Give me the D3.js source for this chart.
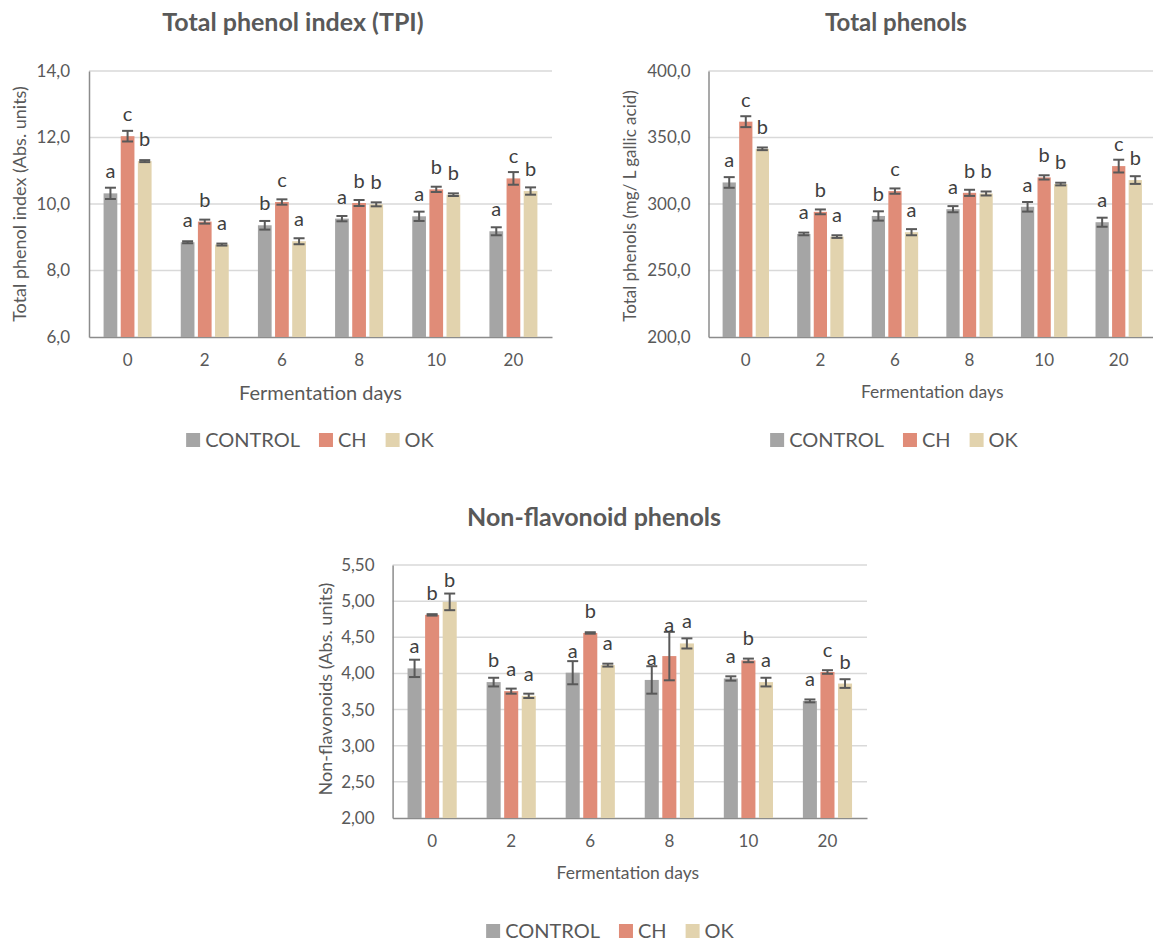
<!DOCTYPE html>
<html><head><meta charset="utf-8">
<script src="https://cdn.jsdelivr.net/npm/d3@7"></script>
<style>
body{margin:0;background:#fff;}
svg{display:block;font-family:Lato,"Open Sans",sans-serif;}
</style></head><body>
<svg id="fig" width="1153" height="942"></svg>
<script>
const days = ["0","2","6","8","10","20"];
const treatments = ["CONTROL","CH","OK"];
const treatmentColors = ["#a5a5a5","#e08c78","#e2d3ae"];

// Total phenol index (Abs. units)
const tpiControl = [10.32, 8.85, 9.36, 9.56, 9.63, 9.18];
const tpiCH      = [12.04, 9.47, 10.06, 10.03, 10.44, 10.77];
const tpiOK      = [11.29, 8.78, 8.88, 9.99, 10.28, 10.39];
const tpiControlSd = [0.17, 0.03, 0.13, 0.08, 0.14, 0.12];
const tpiCHSd      = [0.16, 0.06, 0.08, 0.09, 0.08, 0.19];
const tpiOKSd      = [0.03, 0.03, 0.09, 0.06, 0.04, 0.11];
const tpiControlLetters = ["a","a","b","a","a","a"];
const tpiCHLetters      = ["c","b","c","b","b","c"];
const tpiOKLetters      = ["b","a","a","b","b","b"];
const tpiTicks = [6, 8, 10, 12, 14];

// Total phenols (mg/L gallic acid)
const tpControl = [316.2, 277.5, 291.0, 296.1, 297.9, 286.3];
const tpCH      = [361.9, 294.1, 309.7, 308.4, 320.0, 328.5];
const tpOK      = [341.5, 275.5, 278.8, 307.9, 315.0, 318.0];
const tpControlSd = [4.0, 1.0, 3.5, 2.3, 3.6, 3.4];
const tpCHSd      = [4.1, 1.8, 2.0, 2.3, 1.6, 4.8];
const tpOKSd      = [1.0, 1.0, 2.3, 1.5, 1.0, 2.9];
const tpControlLetters = ["a","a","b","a","a","a"];
const tpCHLetters      = ["c","b","c","b","b","c"];
const tpOKLetters      = ["b","a","a","b","b","b"];
const tpTicks = [200, 250, 300, 350, 400];

// Non-flavonoid phenols (Abs. units)
const nfControl = [4.07, 3.88, 4.01, 3.91, 3.93, 3.62];
const nfCH      = [4.81, 3.755, 4.56, 4.24, 4.18, 4.02];
const nfOK      = [4.99, 3.69, 4.115, 4.415, 3.88, 3.86];
const nfControlSd = [0.12, 0.06, 0.16, 0.19, 0.03, 0.02];
const nfCHSd      = [0.01, 0.035, 0.01, 0.335, 0.025, 0.025];
const nfOKSd      = [0.115, 0.03, 0.02, 0.07, 0.06, 0.06];
const nfControlLetters = ["a","b","a","a","a","a"];
const nfCHLetters      = ["b","a","b","a","b","c"];
const nfOKLetters      = ["b","a","a","a","a","b"];
const nfTicks = [2.0, 2.5, 3.0, 3.5, 4.0, 4.5, 5.0, 5.5];

const svg = d3.select("#fig");
const textColor = "#595959";

function drawChart(cfg) {
  const g = svg.append("g");
  const y = d3.scaleLinear().domain(d3.extent(cfg.ticks)).range([cfg.bottom, cfg.top]);
  const x0 = d3.scaleBand().domain(days).range([cfg.left, cfg.right])
    .paddingInner(0.378).paddingOuter(0.189);
  const x1 = d3.scaleBand().domain(treatments).range([0, x0.bandwidth()]).paddingInner(0.2);
  const fmt = v => d3.format(cfg.fmt)(v).replace(".", ",");

  // gridlines
  g.append("g").selectAll("line").data(cfg.ticks.slice(1)).join("line")
    .attr("x1", cfg.left).attr("x2", cfg.right)
    .attr("y1", d => y(d)).attr("y2", d => y(d))
    .attr("stroke", "#d9d9d9").attr("stroke-width", 1.5);

  // y axis
  const ya = g.append("g").attr("transform", `translate(${cfg.left},0)`)
    .call(d3.axisLeft(y).tickValues(cfg.ticks).tickFormat(fmt).tickSize(0).tickPadding(cfg.tickPad));
  ya.select(".domain").attr("stroke", "#8c8c8c").attr("stroke-width", 1.5);
  ya.selectAll("text").attr("fill", textColor).style("font-size", cfg.tickSize + "px")
    .style("font-family", "Lato, 'Open Sans', sans-serif");

  // x axis
  const xa = g.append("g").attr("transform", `translate(0,${cfg.bottom})`)
    .call(d3.axisBottom(x0).tickSize(0).tickPadding(cfg.xTickPad));
  xa.select(".domain").attr("stroke", "#8c8c8c").attr("stroke-width", 1.5);
  xa.selectAll("text").attr("fill", textColor).style("font-size", cfg.tickSize + "px")
    .style("font-family", "Lato, 'Open Sans', sans-serif");

  // bars, error bars and letters
  const cap = 5.5;
  cfg.series.forEach((s, si) => {
    const tr = treatments[si];
    const rows = days.map((d, i) => ({ day: d, v: s.mean[i], sd: s.sd[i], letter: s.letters[i] }));
    const grp = g.append("g");
    grp.selectAll("rect").data(rows).join("rect")
      .attr("x", d => x0(d.day) + x1(tr))
      .attr("y", d => y(d.v))
      .attr("width", x1.bandwidth())
      .attr("height", d => cfg.bottom - y(d.v))
      .attr("fill", treatmentColors[si]);
    const eb = grp.append("g").attr("stroke", "#595959").attr("stroke-width", 2).attr("fill", "none");
    rows.forEach(d => {
      const cx = x0(d.day) + x1(tr) + x1.bandwidth() / 2;
      const yt = y(d.v + d.sd), yb = y(d.v - d.sd);
      eb.append("line").attr("x1", cx).attr("x2", cx).attr("y1", yt).attr("y2", yb);
      eb.append("line").attr("x1", cx - cap).attr("x2", cx + cap).attr("y1", yt).attr("y2", yt);
      eb.append("line").attr("x1", cx - cap).attr("x2", cx + cap).attr("y1", yb).attr("y2", yb);
    });
    grp.selectAll("text.letter").data(rows).join("text")
      .attr("class", "letter")
      .attr("x", d => x0(d.day) + x1(tr) + x1.bandwidth() / 2)
      .attr("y", d => Math.min(y(d.v) - 22, y(d.v + d.sd) - 7))
      .attr("dy", "0.35em")
      .attr("text-anchor", "middle")
      .attr("fill", "#404040")
      .style("font-size", "20px")
      .text(d => d.letter);
  });

  // titles
  g.append("text").attr("x", cfg.titleX).attr("y", cfg.titleY).attr("text-anchor", "middle")
    .attr("fill", textColor).style("font-size", cfg.titleSize + "px").style("font-weight", "bold").text(cfg.title);
  g.append("text").attr("transform", `translate(${cfg.yTitleX},${cfg.yTitleCy}) rotate(-90)`)
    .attr("text-anchor", "middle").attr("dy", "0.35em")
    .attr("fill", textColor).style("font-size", cfg.yTitleSize + "px").text(cfg.yTitle);
  g.append("text").attr("x", (cfg.left + cfg.right) / 2 + cfg.xTitleShift).attr("y", cfg.xTitleY).attr("dy", "0.35em")
    .attr("text-anchor", "middle").attr("fill", textColor).style("font-size", cfg.xTitleSize + "px")
    .text("Fermentation days");

  // legend
  const lg = g.append("g");
  let lx = 0;
  treatments.forEach((t, i) => {
    const item = lg.append("g").attr("transform", `translate(${lx},0)`);
    item.append("rect").attr("x", 0).attr("y", -7).attr("width", 14).attr("height", 14).attr("fill", treatmentColors[i]);
    const tx = item.append("text").attr("x", 19).attr("dy", "0.35em").attr("fill", textColor)
      .style("font-size", "20px").text(t);
    lx += 19 + tx.node().getComputedTextLength() + 19;
  });
  lx -= 19;
  lg.attr("transform", `translate(${cfg.legendX - lx / 2},${cfg.legendY})`);
}

drawChart({
  left: 89, right: 552, top: 71, bottom: 337, ticks: tpiTicks, fmt: ".1f",
  tickPad: 19, xTickPad: 17, tickSize: 17,
  title: "Total phenol index (TPI)", titleX: 293, titleY: 31, titleSize: 25,
  yTitle: "Total phenol index (Abs. units)", yTitleX: 20, yTitleCy: 204, yTitleSize: 18,
  xTitleY: 393, xTitleSize: 20, xTitleShift: 0, legendX: 310, legendY: 440,
  series: [
    { mean: tpiControl, sd: tpiControlSd, letters: tpiControlLetters },
    { mean: tpiCH, sd: tpiCHSd, letters: tpiCHLetters },
    { mean: tpiOK, sd: tpiOKSd, letters: tpiOKLetters }
  ]
});

drawChart({
  left: 708.5, right: 1156, top: 71, bottom: 337, ticks: tpTicks, fmt: ".1f",
  tickPad: 18, xTickPad: 17, tickSize: 17,
  title: "Total phenols", titleX: 896, titleY: 31, titleSize: 24,
  yTitle: "Total phenols (mg/ L gallic acid)", yTitleX: 630, yTitleCy: 206, yTitleSize: 17,
  xTitleY: 392, xTitleSize: 17.5, xTitleShift: 0, legendX: 894, legendY: 440,
  series: [
    { mean: tpControl, sd: tpControlSd, letters: tpControlLetters },
    { mean: tpCH, sd: tpCHSd, letters: tpCHLetters },
    { mean: tpOK, sd: tpOKSd, letters: tpOKLetters }
  ]
});

drawChart({
  left: 392.6, right: 867, top: 565, bottom: 818, ticks: nfTicks, fmt: ".2f",
  tickPad: 18, xTickPad: 17, tickSize: 17,
  title: "Non-flavonoid phenols", titleX: 594, titleY: 526, titleSize: 25,
  yTitle: "Non-flavonoids (Abs. units)", yTitleX: 326, yTitleCy: 689, yTitleSize: 18,
  xTitleY: 873, xTitleSize: 17.5, xTitleShift: -2, legendX: 610, legendY: 931,
  series: [
    { mean: nfControl, sd: nfControlSd, letters: nfControlLetters },
    { mean: nfCH, sd: nfCHSd, letters: nfCHLetters },
    { mean: nfOK, sd: nfOKSd, letters: nfOKLetters }
  ]
});
</script>
</body></html>
